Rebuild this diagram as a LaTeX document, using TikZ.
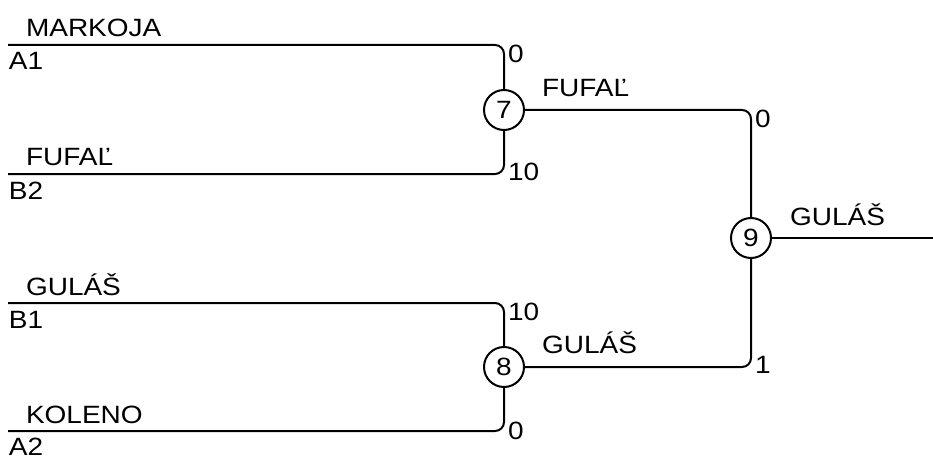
\documentclass[tikz,border=0pt]{standalone}
\usepackage{fontspec}
\setmainfont{Liberation Sans}[FakeStretch=1.12]
\begin{document}
\begin{tikzpicture}[x=1pt,y=-1pt, line width=2pt,
  every node/.style={font=\fontsize{25}{29}\selectfont, inner sep=0pt},
  match/.style={circle, draw, minimum size=40pt, inner sep=0pt},
  lbl/.style={anchor=base west},
  link/.style={rounded corners=9pt}]
\useasboundingbox (0,0) rectangle (933,457);
% entry points
\coordinate (a1) at (8,45);
\coordinate (b2) at (8,174);
\coordinate (b1) at (8,303);
\coordinate (a2) at (8,431);
\coordinate (out) at (933,238);
% matches
\node[match] (m7) at (504,110) {7};
\node[match] (m8) at (504,367) {8};
\node[match] (m9) at (751,238) {9};
% connectors
\draw[link] (a1) -| (m7);
\draw[link] (b2) -| (m7);
\draw[link] (b1) -| (m8);
\draw[link] (a2) -| (m8);
\draw[link] (m7) -| (m9);
\draw[link] (m8) -| (m9);
\draw (m9) -- (out);
% team names
\node[lbl] (nA1) at (25,37) {MARKOJA};
\node[lbl] (sA1) at (8,70) {A1};
\node[lbl] (nB2) at (25,166) {FUFAĽ};
\node[lbl] (sB2) at (8,199) {B2};
\node[lbl] (nB1) at (25,295) {GULÁŠ};
\node[lbl] (sB1) at (8,328) {B1};
\node[lbl] (nA2) at (25,423) {KOLENO};
\node[lbl] (sA2) at (8,455) {A2};
% winners
\node[lbl] (w7) at (541,97) {FUFAĽ};
\node[lbl] (w8) at (541,353) {GULÁŠ};
\node[lbl] (w9) at (789,225) {GULÁŠ};
% scores
\node[lbl] (cA1) at (507,63) {0};
\node[lbl] (cB2) at (507,180) {10};
\node[lbl] (cB1) at (507,320) {10};
\node[lbl] (cA2) at (507,439) {0};
\node[lbl] (c7) at (754,128) {0};
\node[lbl] (c8) at (754,373) {1};
\end{tikzpicture}
\end{document}
